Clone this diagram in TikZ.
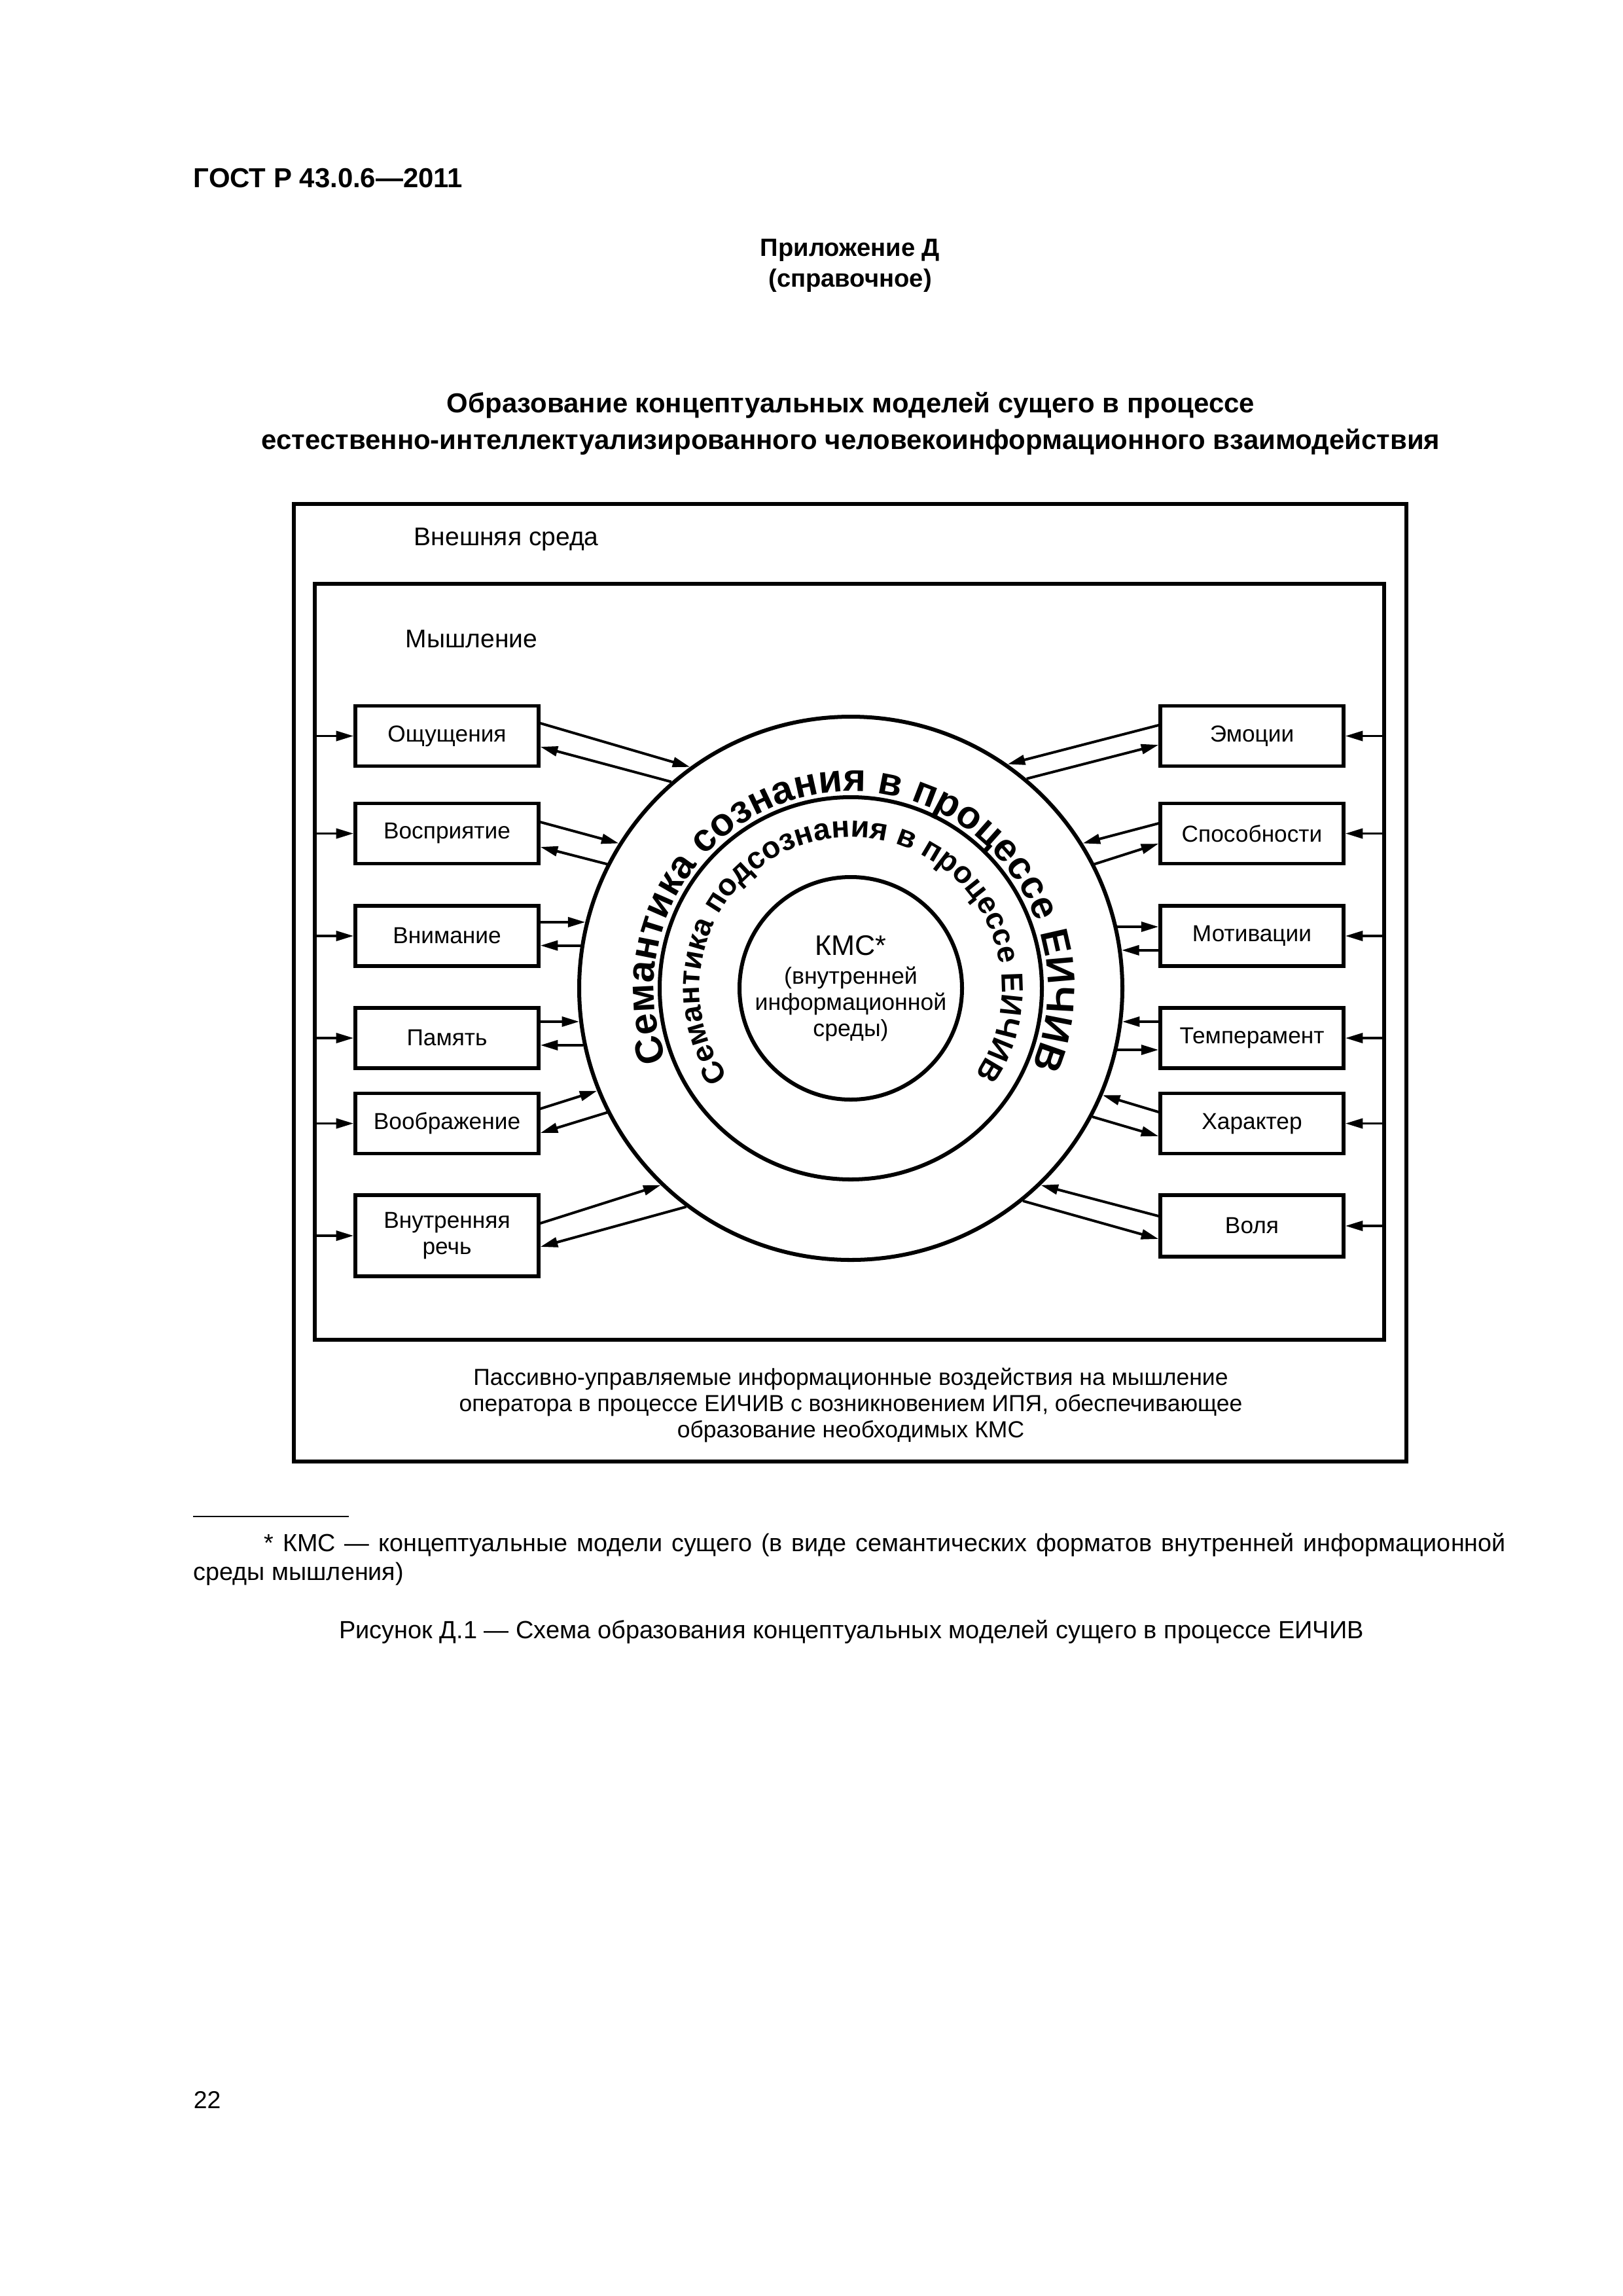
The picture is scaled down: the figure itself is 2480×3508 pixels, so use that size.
\documentclass[tikz,border=0pt]{standalone}
\usepackage{fontspec}
\setmainfont{Liberation Sans}
\usetikzlibrary{arrows.meta,decorations.text,calc}
\newcommand\fsz[2]{\fontsize{#1}{#2}\selectfont}
\def\u{0.0846774mm}
\begin{document}
\begin{tikzpicture}[x=0.0846774mm,y=0.0846774mm,
  txt/.style={inner sep=0pt,text height=0.7em,text depth=0pt},
  frame/.style={draw,inner sep=0pt,line width=1.5pt},
  box/.style={draw,line width=1.3pt,minimum width=280*\u,minimum height=92*\u,inner sep=0pt,align=center,font={\fsz{8.5}{9.8}}},
  ring/.style={circle,draw,line width=1.45pt,inner sep=0pt},
  arr/.style={line width=0.95pt,-{Triangle[length=6.4pt,width=3.6pt]}},
  lbl/.style={txt,font={\fsz{9.4}{11}}}
]
\useasboundingbox (0,0) rectangle (2480,-3508);
\fill[white] (0,0) rectangle (2480,-3508);

% page header and titles
\node[txt,anchor=west,font={\bfseries\fsz{10.1}{12}}] (hdr) at (295,-272) {ГОСТ Р 43.0.6—2011};
\node[txt,font={\bfseries\fsz{9.2}{11}}] (app1) at (1299,-377) {Приложение Д};
\node[txt,font={\bfseries\fsz{9.2}{11}}] (app2) at (1299,-424) {(справочное)};
\node[txt,font={\bfseries\fsz{10.1}{12}}] (tit1) at (1300,-616) {Образование концептуальных моделей сущего в процессе};
\node[txt,font={\bfseries\fsz{10.1}{12}}] (tit2) at (1300,-672) {естественно-интеллектуализированного человекоинформационного взаимодействия};

% frames
\node[frame,minimum width=1700*\u,minimum height=1463*\u] (fout) at (1299,-1501.5) {};
\node[frame,minimum width=1634*\u,minimum height=1155*\u] (fin) at (1298,-1469.5) {};
\node[lbl,anchor=west] (env) at (632,-819) {Внешняя среда};
\node[lbl,anchor=west] (thk) at (619,-975) {Мышление};
\node[align=center,inner sep=0pt,font={\fsz{8.55}{9.6}}] (bot) at (1300,-2147)
  {Пассивно-управляемые информационные воздействия на мышление\\
   оператора в процессе ЕИЧИВ с возникновением ИПЯ, обеспечивающее\\
   образование необходимых КМС};

% boxes
\node[box] (L1) at (683,-1124.5) {Ощущения};
\node[box] (L2) at (683,-1273.5) {Восприятие};
\node[box] (L3) at (683,-1430) {Внимание};
\node[box] (L4) at (683,-1586) {Память};
\node[box] (L5) at (683,-1716.5) {Воображение};
\node[box,minimum height=124*\u] (L6) at (683,-1888) {Внутренняя\\речь};
\node[box] (R1) at (1913,-1124.5) {Эмоции};
\node[box] (R2) at (1913,-1273.5) {Способности};
\node[box] (R3) at (1913,-1430) {Мотивации};
\node[box] (R4) at (1913,-1586) {Темперамент};
\node[box] (R5) at (1913,-1716.5) {Характер};
\node[box,minimum height=94*\u] (R6) at (1913,-1873) {Воля};

% circles
\coordinate (C) at (1300,-1510);
\node[ring,minimum size=830*\u] (oc) at (C) {};
\node[ring,minimum size=584*\u] (mc) at (C) {};
\node[ring,minimum size=340*\u,align=center,font={\fsz{8.6}{9.6}}] (kms) at (C)
  {{\fsz{10.4}{12}КМС*}\\[1pt](внутренней\\информационной\\среды)};

\path[decorate,decoration={text along path,text align=center,
  text={|\bfseries\fsz{14.3}{16}|Семантика сознания в процессе ЕИЧИВ}}]
  ($(C)+(200:301)$) arc[start angle=200,end angle=-22,radius=301];
\path[decorate,decoration={text along path,text align=center,
  text={|\bfseries\fsz{11.2}{13}|Семантика подсознания в процессе ЕИЧИВ}}]
  ($(C)+(220:231)$) arc[start angle=220,end angle=-39,radius=231];

% inputs from the thinking frame
\foreach \b in {L1,L2,L3,L4,L5,L6}{\draw[arr] (\b.west -| fin.west) -- (\b.west);}
\foreach \b in {R1,R2,R3,R4,R5,R6}{\draw[arr] (\b.east -| fin.east) -- (\b.east);}

% left connectors
\draw[arr] ($(L1.east)+(0,19.5)$) -- (oc.126.1);
\draw[arr] (oc.131.4) -- ($(L1.east)+(0,-16.5)$);
\draw[arr] ($(L2.east)+(0,17.5)$) -- (oc.148.6);
\draw[arr] (oc.153.4) -- ($(L2.east)+(0,-20.5)$);
\coordinate (a3) at (oc.166.2); \coordinate (b3) at (oc.171.4);
\draw[arr] (L3.east |- a3) -- (a3);
\draw[arr] (b3) -- (L3.east |- b3);
\coordinate (a4) at (oc.187.9); \coordinate (b4) at (oc.192.8);
\draw[arr] (L4.east |- a4) -- (a4);
\draw[arr] (b4) -- (L4.east |- b4);
\draw[arr] ($(L5.east)+(0,22.5)$) -- (oc.202.6);
\draw[arr] (oc.207.5) -- ($(L5.east)+(0,-14.5)$);
\draw[arr] ($(L6.east)+(0,19)$) -- (oc.226.8);
\draw[arr] (oc.233) -- ($(L6.east)+(0,-17)$);

% right connectors
\draw[arr] ($(R1.west)+(0,16.5)$) -- (oc.55.5);
\draw[arr] (oc.50.3) -- ($(R1.west)+(0,-13.5)$);
\draw[arr] ($(R2.west)+(0,15.5)$) -- (oc.32.2);
\draw[arr] (oc.27.7) -- ($(R2.west)+(0,-15.5)$);
\coordinate (c3) at (oc.13.1); \coordinate (d3) at (oc.8);
\draw[arr] (c3) -- (R3.west |- c3);
\draw[arr] (R3.west |- d3) -- (d3);
\coordinate (c4) at (oc.-7.9); \coordinate (d4) at (oc.-13.1);
\draw[arr] (R4.west |- c4) -- (c4);
\draw[arr] (d4) -- (R4.west |- d4);
\draw[arr] ($(R5.west)+(0,17.5)$) -- (oc.-23.2);
\draw[arr] (oc.-28) -- ($(R5.west)+(0,-19.5)$);
\draw[arr] ($(R6.west)+(0,15)$) -- (oc.-46);
\draw[arr] (oc.-51.3) -- ($(R6.west)+(0,-20)$);

% footnote and caption
\coordinate (fr1) at (295,-2317); \coordinate (fr2) at (533,-2317);
\draw[line width=0.5pt] (fr1) -- (fr2);
\node[anchor=base west,inner sep=0pt,text width=2005*\u,align=justify,font={\fsz{9.1}{10.8}}] (fn) at (295,-2370)
  {\hspace*{9.145mm}* КМС — концептуальные модели сущего (в виде семантических форматов внутренней информационной\linebreak среды мышления)};
\node[txt,font={\fsz{9.15}{11}}] (cap) at (1301,-2489) {Рисунок Д.1 — Схема образования концептуальных моделей сущего в процессе ЕИЧИВ};
\node[txt,anchor=west,font={\fsz{9}{11}}] (pg) at (295,-3207) {22};
\end{tikzpicture}
\end{document}
